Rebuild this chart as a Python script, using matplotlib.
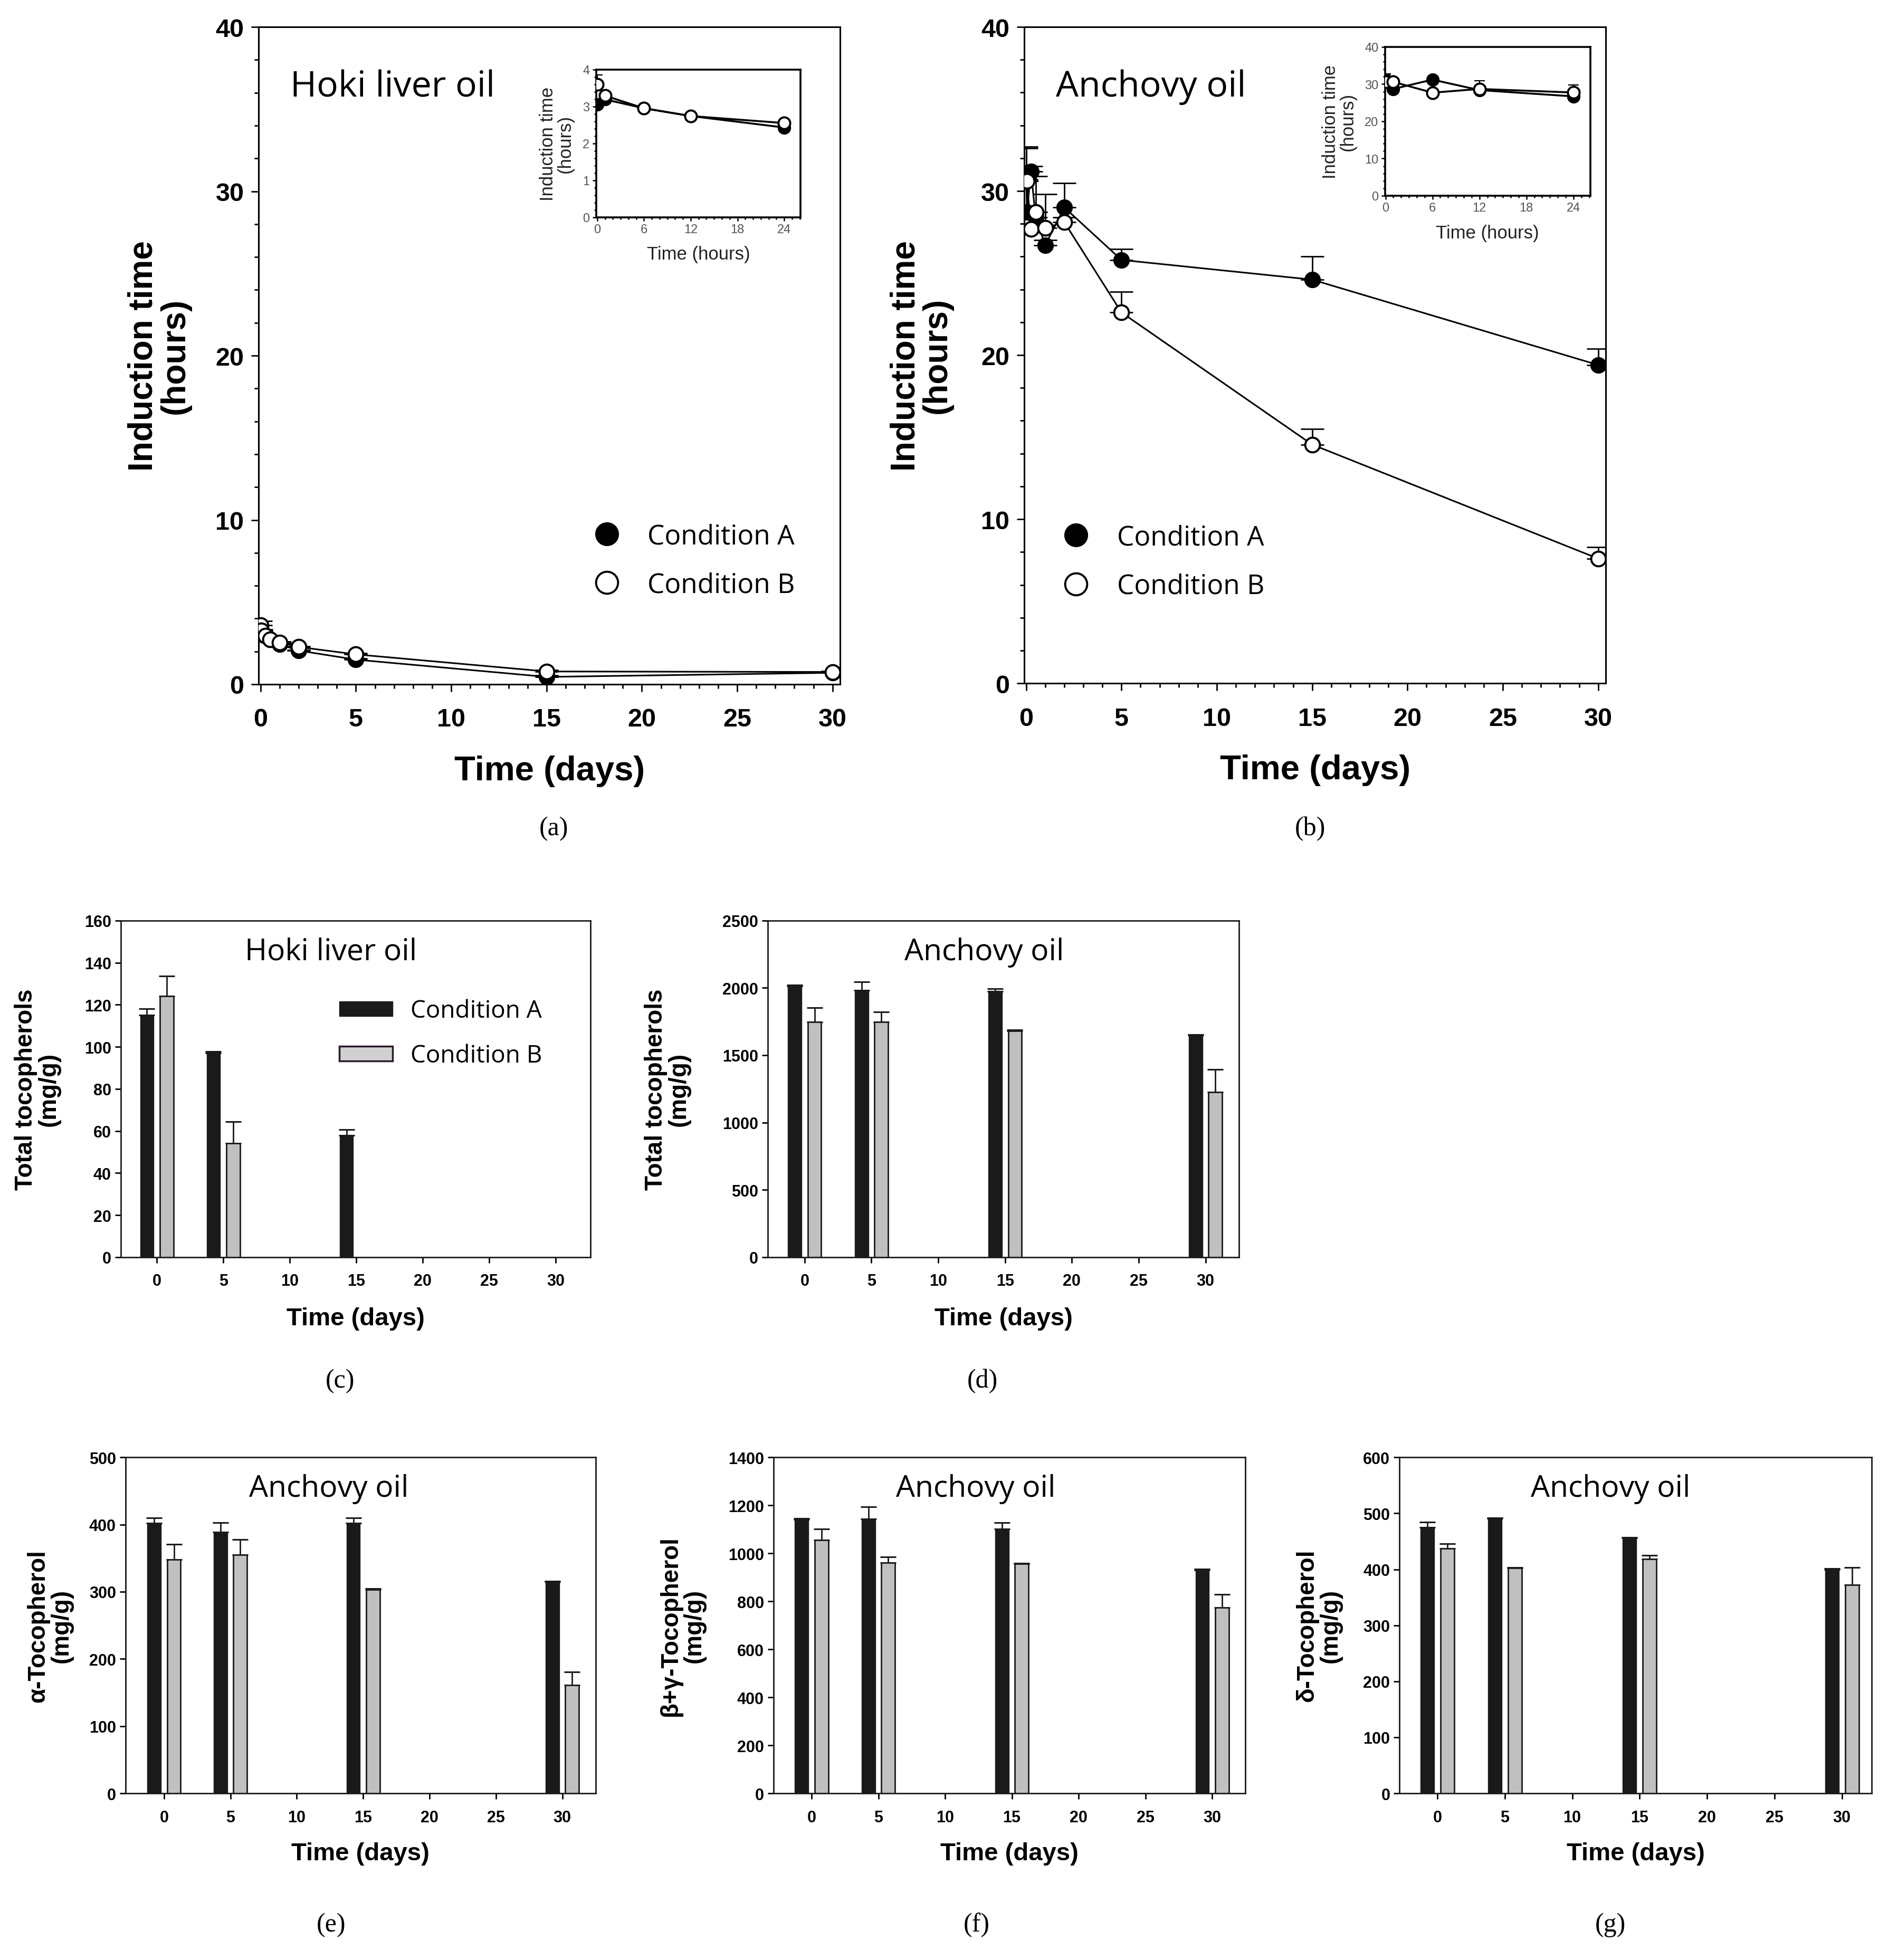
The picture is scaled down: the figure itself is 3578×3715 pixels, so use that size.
import numpy as np
import matplotlib
matplotlib.use('Agg')
import matplotlib.pyplot as plt
from matplotlib.ticker import MultipleLocator, FixedLocator
from matplotlib.patches import Patch
from matplotlib.lines import Line2D

# ---------------- data ----------------
hours = [0, 1, 6, 12, 24]
later_days = [2, 5, 15, 30]
time_days = [h / 24 for h in hours] + later_days

hoki_A = [3.05, 3.19, 2.95, 2.74, 2.43, 2.05, 1.50, 0.45, 0.70]
hoki_B = [3.60, 3.29, 2.95, 2.74, 2.55, 2.27, 1.82, 0.78, 0.75]
hoki_A_err = [0.05, 0.05, 0.05, 0.05, 0.05, 0.05, 0.08, 0.08, 0.05]
hoki_B_err = [0.25, 0.05, 0.05, 0.05, 0.05, 0.05, 0.08, 0.08, 0.05]

anch_A = [31.1, 28.7, 31.2, 28.4, 26.7, 29.0, 25.8, 24.6, 19.4]
anch_B = [30.7, 30.6, 27.7, 28.7, 27.75, 28.1, 22.6, 14.55, 7.6]
anch_A_err = [1.6, 0.3, 0.3, 0.3, 0.3, 1.5, 0.65, 1.4, 1.0]
anch_B_err = [1.9, 0.3, 0.3, 2.2, 2.05, 0.3, 1.25, 0.95, 0.7]

bar_days = [0, 5, 15, 30]
hoki_toc_A = [115, 97, 58, np.nan]
hoki_toc_A_err = [3, 0.8, 2.6, np.nan]
hoki_toc_B = [124, 54, np.nan, np.nan]
hoki_toc_B_err = [9.5, 10.5, np.nan, np.nan]

anch_toc_A = [2015, 1980, 1974, 1647]
anch_toc_A_err = [5, 64, 20, 5]
anch_toc_B = [1747, 1747, 1682, 1226]
anch_toc_B_err = [105, 75, 8, 167]

alpha_A = [402, 389, 402, 315]
alpha_A_err = [8, 14, 8, 1]
alpha_B = [348, 355, 303, 161]
alpha_B_err = [23, 23, 2, 20]

bg_A = [1141, 1144, 1101, 931]
bg_A_err = [4, 50, 28, 3]
bg_B = [1056, 961, 956, 773]
bg_B_err = [45, 24, 3, 57]

delta_A = [475, 490.5, 456, 400]
delta_A_err = [9, 1, 1, 1]
delta_B = [437, 402, 418, 372]
delta_B_err = [9, 1, 7, 31]

# ---------------- style ----------------
W, H = 3578, 3716
DPI = 100
fig = plt.figure(figsize=(W / DPI, H / DPI), dpi=DPI)

ARIAL = 'Liberation Sans'
MYRIAD = 'Open Sans'
SERIF = 'Liberation Serif'


def style_line_axes(ax):
    for s in ax.spines.values():
        s.set_linewidth(2.2)
    ax.tick_params(which='both', direction='out', top=False, right=False, width=2.0)
    ax.tick_params(which='major', length=10)
    ax.tick_params(which='minor', length=6)
    ax.tick_params(axis='x', which='major', pad=22)
    ax.tick_params(axis='y', which='major', pad=10)
    for lab in ax.get_xticklabels() + ax.get_yticklabels():
        lab.set_fontfamily(ARIAL)
        lab.set_fontweight('bold')
        lab.set_fontsize(35)


def line_panel(rect, A, Aerr, B, Berr, title, leg_anchor, ylab_x):
    ax = fig.add_axes(rect)
    ax.errorbar(time_days, A, yerr=[np.zeros(len(A)), Aerr], fmt='none', ecolor='k',
                elinewidth=2.0, capsize=16, capthick=2.0, zorder=2)
    ax.errorbar(time_days, B, yerr=[np.zeros(len(B)), Berr], fmt='none', ecolor='k',
                elinewidth=2.0, capsize=16, capthick=2.0, zorder=2)
    ax.plot(time_days, A, '-o', color='k', lw=2.2, ms=20, mfc='k', mec='k', mew=2.5,
            zorder=3, label='Condition A')
    ax.plot(time_days, B, '-o', color='k', lw=2.2, ms=20, mfc='white', mec='k', mew=2.8,
            zorder=4, label='Condition B')
    ax.set_xlim(-0.1, 30.4)
    ax.set_ylim(0, 40)
    ax.xaxis.set_major_locator(MultipleLocator(5))
    ax.xaxis.set_minor_locator(MultipleLocator(1))
    ax.yaxis.set_major_locator(MultipleLocator(10))
    ax.yaxis.set_minor_locator(MultipleLocator(2))
    style_line_axes(ax)
    ax.set_xlabel('Time (days)', fontfamily=ARIAL, fontweight='bold', fontsize=47,
                  va='center')
    ax.set_ylabel('Induction time\n(hours)', fontfamily=ARIAL, fontweight='bold', fontsize=46,
                  linespacing=1.0, va='center')
    ax.yaxis.set_label_coords(ylab_x, 0.5)
    ax.xaxis.set_label_coords(0.5, -0.132)
    ax.text(0.054, 0.909, title, transform=ax.transAxes, fontfamily=MYRIAD, fontsize=49,
            ha='left', va='center')
    handles = [Line2D([], [], ls='none', marker='o', ms=30, mfc='k', mec='k', mew=2.5),
               Line2D([], [], ls='none', marker='o', ms=30, mfc='white', mec='k', mew=2.8)]
    ax.legend(handles, ['Condition A', 'Condition B'], loc='center left',
              bbox_to_anchor=leg_anchor, frameon=False, borderpad=0, borderaxespad=0,
              handlelength=1.0, handletextpad=1.0, labelspacing=0.8,
              prop={'family': MYRIAD, 'size': 37})
    return ax


def inset_panel(rect, A, Aerr, B, Berr, ymax, ymajor, yminor, ylab_x, xlim):
    ax = fig.add_axes(rect)
    n = len(hours)
    ax.errorbar(hours, A[:n], yerr=[np.zeros(n), Aerr[:n]], fmt='none', ecolor='k',
                elinewidth=1.6, capsize=7, capthick=1.6, zorder=2)
    ax.errorbar(hours, B[:n], yerr=[np.zeros(n), Berr[:n]], fmt='none', ecolor='k',
                elinewidth=1.6, capsize=7, capthick=1.6, zorder=2)
    ax.plot(hours, A[:n], '-o', color='k', lw=2.6, ms=16, mfc='k', mec='k', mew=2.2, zorder=3)
    ax.plot(hours, B[:n], '-o', color='k', lw=2.6, ms=16, mfc='white', mec='k', mew=2.8, zorder=4)
    ax.set_xlim(*xlim)
    ax.set_ylim(0, ymax)
    ax.xaxis.set_major_locator(MultipleLocator(6))
    ax.xaxis.set_minor_locator(MultipleLocator(1))
    ax.yaxis.set_major_locator(MultipleLocator(ymajor))
    ax.yaxis.set_minor_locator(MultipleLocator(yminor))
    for s in ax.spines.values():
        s.set_linewidth(2.6)
    ax.tick_params(which='both', direction='out', top=False, right=False, width=1.8)
    ax.tick_params(which='major', length=5, pad=4, labelsize=17, labelcolor='#555555')
    ax.tick_params(which='minor', length=3)
    for lab in ax.get_xticklabels() + ax.get_yticklabels():
        lab.set_fontfamily(ARIAL)
    ax.set_xlabel('Time (hours)', fontfamily=ARIAL, fontsize=25, color='#222222', va='center')
    ax.set_ylabel('Induction time\n(hours)', fontfamily=ARIAL, fontsize=25, color='#222222',
                  linespacing=1.0, va='center')
    ax.yaxis.set_label_coords(ylab_x, 0.5)
    ax.xaxis.set_label_coords(0.5, -0.25)
    return ax


def bar_panel(rect, A, Aerr, B, Berr, ymax, ystep, ylabel, title, title_x, xlim, ylab_x,
              xlab_y, legend=False):
    ax = fig.add_axes(rect)
    d = np.array(bar_days, dtype=float)
    A = np.array(A, dtype=float); B = np.array(B, dtype=float)
    Aerr = np.array(Aerr, dtype=float); Berr = np.array(Berr, dtype=float)
    off, wid = 0.74, 1.02
    mA = ~np.isnan(A); mB = ~np.isnan(B)
    ax.bar(d[mA] - off, A[mA], width=wid, color='#1a1a1a', edgecolor='#1a1a1a', lw=1.0,
           zorder=3, label='Condition A')
    ax.bar(d[mB] + off, B[mB], width=wid, color='#c0c0c0', edgecolor='#1a1a1a', lw=2.0,
           zorder=3, label='Condition B')
    ax.errorbar(d[mA] - off, A[mA], yerr=[np.zeros(mA.sum()), Aerr[mA]], fmt='none',
                ecolor='#1a1a1a', elinewidth=2.0, capsize=11, capthick=2.2, zorder=2)
    ax.errorbar(d[mB] + off, B[mB], yerr=[np.zeros(mB.sum()), Berr[mB]], fmt='none',
                ecolor='#1a1a1a', elinewidth=2.0, capsize=11, capthick=2.2, zorder=2)
    ax.set_xlim(*xlim)
    ax.set_ylim(0, ymax)
    ax.xaxis.set_major_locator(FixedLocator([0, 5, 10, 15, 20, 25, 30]))
    ax.yaxis.set_major_locator(MultipleLocator(ystep))
    for s in ax.spines.values():
        s.set_linewidth(2.0)
        s.set_color('#1a1a1a')
    ax.tick_params(which='both', direction='out', top=False, right=False, width=2.0,
                   length=8)
    ax.tick_params(axis='x', pad=14)
    ax.tick_params(axis='y', pad=5)
    for lab in ax.get_xticklabels() + ax.get_yticklabels():
        lab.set_fontfamily(ARIAL)
        lab.set_fontweight('bold')
        lab.set_fontsize(22)
    ax.set_xlabel('Time (days)', fontfamily=ARIAL, fontweight='bold', fontsize=34, va='center')
    ax.set_ylabel(ylabel, fontfamily=ARIAL, fontweight='bold', fontsize=33, linespacing=1.0,
                  va='center')
    ax.yaxis.set_label_coords(ylab_x, 0.5)
    ax.xaxis.set_label_coords(0.5, xlab_y)
    ax.text(title_x, 0.907, title, transform=ax.transAxes, fontfamily=MYRIAD, fontsize=41,
            ha='center', va='center')
    if legend:
        handles = [Patch(facecolor='#1a1a1a', edgecolor='#1a1a1a', lw=1.0),
                   Patch(facecolor='#d0d0d0', edgecolor='#2a1a2a', lw=2.5)]
        ax.legend(handles, ['Condition A', 'Condition B'], loc='center left',
                  bbox_to_anchor=(0.465, 0.665), frameon=False, borderpad=0,
                  borderaxespad=0, handlelength=2.2, handleheight=0.55,
                  handletextpad=0.75, labelspacing=0.85,
                  prop={'family': MYRIAD, 'size': 33})
    return ax


# ---------------- panels ----------------
line_panel([0.1370, 0.6507, 0.3080, 0.3353], hoki_A, hoki_A_err, hoki_B, hoki_B_err,
           'Hoki liver oil', (0.575, 0.188), -0.171)
line_panel([0.5425, 0.6512, 0.3080, 0.3348], anch_A, anch_A_err, anch_B, anch_B_err,
           'Anchovy oil', (0.066, 0.185), -0.177)

inset_panel([0.3158, 0.8889, 0.1082, 0.0754], hoki_A, hoki_A_err, hoki_B, hoki_B_err,
            4, 1, 0.2, -0.194, (-0.13, 26.1))
inset_panel([0.7336, 0.8999, 0.1087, 0.0759], anch_A, anch_A_err, anch_B, anch_B_err,
            40, 10, 2, -0.224, (-0.05, 26.15))

bar_panel([0.0640, 0.3585, 0.2487, 0.1717], hoki_toc_A, hoki_toc_A_err, hoki_toc_B,
          hoki_toc_B_err, 160, 20, 'Total tocopherols\n(mg/g)', 'Hoki liver oil', 0.447,
          (-2.7, 32.6), -0.178, -0.182, legend=True)
bar_panel([0.4067, 0.3585, 0.2495, 0.1717], anch_toc_A, anch_toc_A_err, anch_toc_B,
          anch_toc_B_err, 2500, 500, 'Total tocopherols\n(mg/g)', 'Anchovy oil', 0.459,
          (-2.75, 32.5), -0.213, -0.182)
bar_panel([0.0665, 0.0850, 0.2489, 0.1714], alpha_A, alpha_A_err, alpha_B, alpha_B_err,
          500, 100, 'α-Tocopherol\n(mg/g)', 'Anchovy oil', 0.433,
          (-2.9, 32.5), -0.161, -0.179)
bar_panel([0.4097, 0.0850, 0.2500, 0.1714], bg_A, bg_A_err, bg_B, bg_B_err,
          1400, 200, 'β+γ-Tocopherol\n(mg/g)', 'Anchovy oil', 0.428,
          (-2.85, 32.5), -0.193, -0.179)
bar_panel([0.7413, 0.0850, 0.2500, 0.1714], delta_A, delta_A_err, delta_B, delta_B_err,
          600, 100, 'δ-Tocopherol\n(mg/g)', 'Anchovy oil', 0.447,
          (-2.8, 32.2), -0.171, -0.179)

for lab, x, y in [('(a)', 0.2934, 0.5772), ('(b)', 0.694, 0.5772),
                  ('(c)', 0.1802, 0.2955), ('(d)', 0.5205, 0.2955),
                  ('(e)', 0.1755, 0.018), ('(f)', 0.5173, 0.018), ('(g)', 0.853, 0.018)]:
    fig.text(x, y, lab, fontfamily=SERIF, fontsize=36, ha='center', va='center')

fig.savefig('out.png', dpi=DPI, facecolor='white')
